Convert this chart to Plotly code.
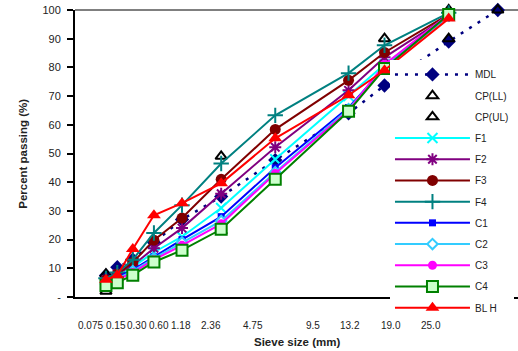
import plotly.graph_objects as go

# Sieve openings (mm) at which each gradation was measured
sieve_mm = [0.075, 0.15, 0.3, 0.6, 1.18, 2.36, 4.75, 9.5, 12.5, 19.0, 25.0]

# Axis tick labels drawn under the chart
tick_labels = ["0.075", "0.15", "0.30", "0.60", "1.18", "2.36",
               "4.75", "9.5", "13.2", "19.0", "25.0"]
# Where those labels sit along the 0.45-power axis
tick_pos = [0.158, 0.413, 0.624, 0.846, 1.068, 1.369, 1.792, 2.396, 2.769, 3.181, 3.584]

# Percent passing per gradation (None = not measured)
mdl = [7.5, 10.4, 13.0, 19.0, 27.0, 35.0, 47.7, 64.0, 73.7, 89.0, 100.0]
cp_ll = [2, None, None, None, None, 23, None, None, None, 90, 100]
cp_ul = [8, None, None, None, None, 49, None, None, 90, 100, None]
f1 = [5.0, 7.0, 10.4, 15.6, 21.0, 31.0, 48.0, 70.0, 81.0, 98.0]
f2 = [6.0, 8.0, 11.0, 17.0, 24.0, 36.0, 52.2, 72.0, 83.5, 98.0]
f3 = [6.0, 8.0, 12.0, 19.8, 27.5, 41.0, 58.4, 75.5, 85.2, 98.5]
f4 = [6.5, 8.5, 13.0, 22.3, 32.0, 46.5, 63.3, 78.0, 87.7, 99.0]
c1 = [5.0, 7.0, 9.5, 14.0, 20.0, 28.0, 45.0, 66.0, 80.0, 98.0]
c2 = [4.5, 6.5, 9.0, 13.5, 19.0, 26.5, 43.5, 65.5, 80.0, 98.0]
c3 = [4.5, 6.0, 8.5, 13.0, 18.0, 25.5, 43.0, 65.0, 81.0, 98.5]
c4 = [4.0, 5.0, 7.6, 12.2, 16.3, 23.6, 41.0, 64.7, 79.6, 98.4]
bl_h = [6.0, 7.6, 16.7, 28.5, 32.7, 39.6, 55.3, 70.3, 79.0, 97.0]

y_ticks = [0, 10, 20, 30, 40, 50, 60, 70, 80, 90, 100]
y_tick_text = ["-", "10", "20", "30", "40", "50", "60", "70", "80", "90", "100"]

POWER = 0.45


def px(sizes):
    return [s ** POWER for s in sizes]


FONT = "Liberation Sans, Arial, sans-serif"
TXT = "#222222"

fig = go.Figure()

fig.add_trace(go.Scatter(
    x=px(sieve_mm), y=mdl, name="MDL", mode="lines+markers",
    line=dict(color="#000080", width=2.5, dash="3px,7px"),
    marker=dict(symbol="diamond", size=11, color="#000080"),
))
fig.add_trace(go.Scatter(
    x=px(sieve_mm), y=cp_ll, name="CP(LL)", mode="markers",
    marker=dict(symbol="triangle-up-open", size=10, color="black",
                line=dict(width=2, color="black")),
))
fig.add_trace(go.Scatter(
    x=px(sieve_mm), y=cp_ul, name="CP(UL)", mode="markers",
    marker=dict(symbol="triangle-up-open", size=10, color="black",
                line=dict(width=2, color="black")),
))

series = [
    ("F1", f1, "#00FFFF", dict(symbol="x-thin-open", size=10,
                                line=dict(width=2, color="#00FFFF"))),
    ("F2", f2, "#800080", dict(symbol="asterisk-open", size=10,
                                line=dict(width=2, color="#800080"))),
    ("F3", f3, "#800000", dict(symbol="circle", size=11, color="#800000")),
    ("F4", f4, "#008080", dict(symbol="cross-thin-open", size=11,
                                line=dict(width=2, color="#008080"))),
    ("C1", c1, "#0000FF", dict(symbol="square", size=7, color="#0000FF")),
    ("C2", c2, "#33CCFF", dict(symbol="diamond", size=8, color="white",
                                line=dict(width=2, color="#33CCFF"))),
    ("C3", c3, "#FF00FF", dict(symbol="circle", size=9, color="#FF00FF")),
    ("C4", c4, "#008000", dict(symbol="square", size=11, color="#CCFFCC",
                                line=dict(width=2, color="#008000"))),
    ("BL H", bl_h, "#FF0000", dict(symbol="triangle-up", size=12, color="#FF0000")),
]
for name, vals, col, mk in series:
    fig.add_trace(go.Scatter(
        x=px(sieve_mm[:len(vals)]), y=vals, name=name, mode="lines+markers",
        line=dict(color=col, width=2), marker=mk,
    ))

fig.update_traces(cliponaxis=False)
# one legend group per trace so the group gap spaces the entries evenly
for tr in fig.data:
    tr.legendgroup = tr.name

# sieve labels written as text so they stay visible beside the legend box
sieve_text = [
    dict(text=lab, x=pos, xref="x", y=-0.1, yref="paper",
         xanchor="center", yanchor="middle", showarrow=False,
         font=dict(size=10))
    for lab, pos in zip(tick_labels, tick_pos)
]

fig.update_layout(
    width=518, height=351,
    margin=dict(l=75, r=0, t=10, b=54),
    paper_bgcolor="white", plot_bgcolor="white",
    font=dict(family=FONT, color=TXT, size=10),
    showlegend=True,
    legend=dict(
        x=0.711, y=0.826, xanchor="left", yanchor="top",
        bgcolor="white", borderwidth=0,
        font=dict(size=10, family=FONT, color=TXT),
        itemwidth=75, traceorder="grouped", tracegroupgap=2.2,
    ),
    xaxis=dict(
        range=[0, 4.46], showgrid=False, zeroline=False,
        showline=True, linecolor="black", linewidth=2,
        ticks="", showticklabels=False,
    ),
    yaxis=dict(
        range=[0, 100], showgrid=False, zeroline=False,
        showline=True, linecolor="black", linewidth=2,
        ticks="outside", ticklen=6, tickwidth=1.5, tickcolor="black",
        tickvals=y_ticks, ticktext=y_tick_text,
        tickfont=dict(size=11), ticklabelstandoff=4,
    ),
    shapes=[dict(type="line", xref="paper", yref="paper",
                 x0=0, x1=1, y0=1, y1=1,
                 line=dict(color="black", width=1), layer="below")],
    annotations=sieve_text + [
        dict(text="<b>Sieve size (mm)</b>", xref="paper", yref="paper",
             x=0.5, y=-0.157, xanchor="center", yanchor="middle",
             showarrow=False, font=dict(size=11.5)),
        dict(text="<b>Percent passing (%)</b>", xref="paper", yref="paper",
             x=-0.119, y=0.5, xanchor="center", yanchor="middle",
             textangle=-90, showarrow=False, font=dict(size=11.5)),
    ],
)

fig.write_html("out.html")
